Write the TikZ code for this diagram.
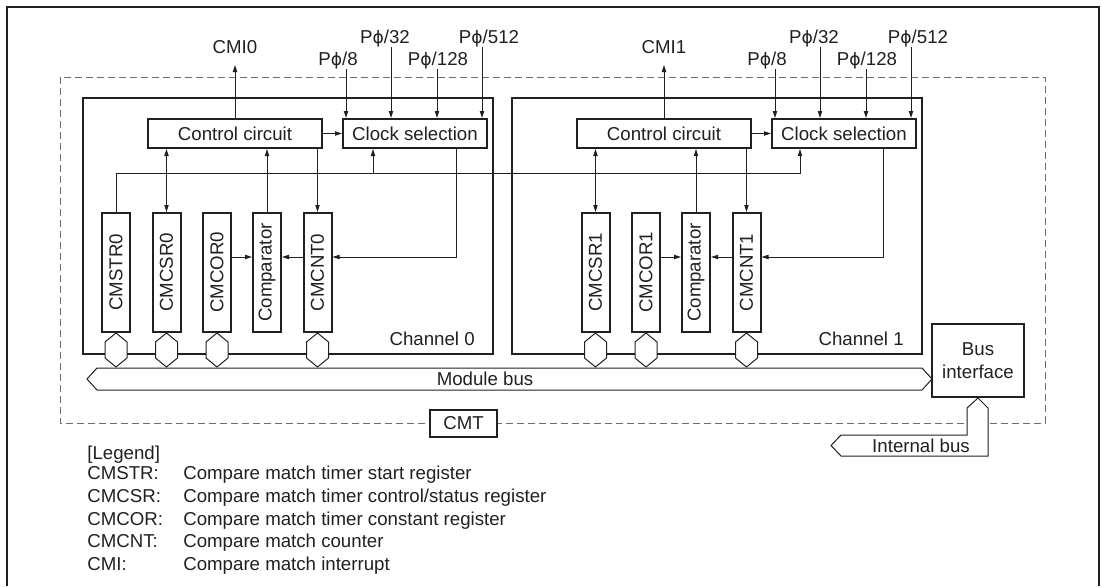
\documentclass[tikz,border=0pt]{standalone}
\usepackage{fontspec}
\setmainfont{Liberation Sans}
\newfontfamily\phifont[Scale=0.92]{DejaVu Sans}
\usetikzlibrary{arrows.meta, positioning, calc}
\definecolor{inkK}{HTML}{231F20}
\definecolor{dashGray}{HTML}{6D6E71}
\newcommand{\Pphi}{P{\phifont ϕ}}
\tikzset{
  lineK/.style={draw=inkK, line width=0.6pt},
  arrowK/.style={-{Triangle[length=4.2pt, width=2.6pt]}, draw=inkK, line width=0.6pt},
  arrowKK/.style={{Triangle[length=4.2pt, width=2.6pt]}-{Triangle[length=4.2pt, width=2.6pt]},
                  draw=inkK, line width=0.6pt},
  boxK/.style={rectangle, draw=inkK, line width=1.2pt, fill=white, inner sep=0pt,
               minimum height=17.4pt},
  regBox/.style={boxK, minimum width=16.8pt, minimum height=71.4pt},
  chanBox/.style={rectangle, draw=inkK, line width=1.3pt, inner sep=0pt,
                  minimum width=246pt, minimum height=153.6pt},
  cmtLine/.style={draw=dashGray, line width=0.6pt, dash pattern=on 4.2pt off 2.4pt},
  busK/.style={draw=inkK, line width=0.6pt, fill=white},
  legendK/.style={anchor=base west, inner sep=0pt},
  hexcon/.pic={\path[busK] (0,10.2pt) -- (6.6pt,4.8pt) -- (6.6pt,-4.8pt) -- (0,-10.2pt)
                 -- (-6.6pt,-4.8pt) -- (-6.6pt,4.8pt) -- cycle;},
}
\begin{document}
\begin{tikzpicture}[x=0.6pt, y=-0.6pt, font=\fontsize{11.2}{13.8}\selectfont, text=inkK]
    \useasboundingbox (0,0) rectangle (1103,586);
    \draw[inkK, line width=1.5pt] (7,586) -- (7,7) -- (1099,7) -- (1099,586);
    % CMT module
    \draw[cmtLine] (60,77) rectangle (1045,423);
    \node[boxK, minimum width=40.2pt, minimum height=16.2pt] (cmt) at (463.5,423) {CMT};
    \node[chanBox] (ch0) at (288,226) {};
    \node[chanBox] (ch1) at (717,226) {};
    \node[anchor=east, inner sep=0pt] (chl0) at (475,339) {Channel 0};
    \node[anchor=east, inner sep=0pt] (chl1) at (904,339) {Channel 1};

    % channel 0
    \node[boxK, minimum width=104.4pt] (ctl0) at (235,133.5) {Control circuit};
    \node[boxK, minimum width=86.4pt] (clk0) at (415,133.5) {Clock selection};
    \node[regBox] (str0) at (116,272.5) {\rotatebox{90}{CMSTR0}};
    \node[regBox] (csr0) at (166.5,272.5) {\rotatebox{90}{CMCSR0}};
    \node[regBox] (cor0) at (217,272.5) {\rotatebox{90}{CMCOR0}};
    \node[regBox] (cmp0) at (267,272.5) {\rotatebox{90}{Comparator}};
    \node[regBox] (cnt0) at (317.5,272.5) {\rotatebox{90}{CMCNT0}};

    \node[anchor=base] (cmi0) at (235,53) {CMI0};
    \coordinate (cmi0t) at (235,65);
    \draw[arrowK] (ctl0.north) -- (cmi0t);
    \node[anchor=base] (p8a) at (338,65) {\Pphi/8};
    \node[anchor=base] (p32a) at (385,43.3) {\Pphi/32};
    \node[anchor=base] (p128a) at (438,65) {\Pphi/128};
    \node[anchor=base] (p512a) at (489,43.3) {\Pphi/512};
    \coordinate (in8a) at (346,69);
    \coordinate (in32a) at (391,47);
    \coordinate (in128a) at (437,69);
    \coordinate (in512a) at (482,47);
    \draw[arrowK] (in8a) -- (in8a |- clk0.north);
    \draw[arrowK] (in32a) -- (in32a |- clk0.north);
    \draw[arrowK] (in128a) -- (in128a |- clk0.north);
    \draw[arrowK] (in512a) -- (in512a |- clk0.north);
    \draw[arrowK] (ctl0) -- (clk0);
    \draw[arrowKK] (csr0.north) -- (csr0.north |- ctl0.south);
    \draw[arrowK] (cmp0.north) -- (cmp0.north |- ctl0.south);
    \draw[arrowK] (cnt0.north |- ctl0.south) -- (cnt0.north);
    \draw[arrowK] ([xshift=24.6pt]clk0.south) |- ([yshift=9.3pt]cnt0.east);
    \draw[arrowK] ([yshift=9.3pt]cor0.east) -- ([yshift=9.3pt]cmp0.west);
    \draw[arrowK] ([yshift=9.3pt]cnt0.west) -- ([yshift=9.3pt]cmp0.east);

    % channel 1
    \node[boxK, minimum width=104.4pt] (ctl1) at (664,133.5) {Control circuit};
    \node[boxK, minimum width=86.4pt] (clk1) at (844,133.5) {Clock selection};
    \node[regBox] (csr1) at (595.5,272.5) {\rotatebox{90}{CMCSR1}};
    \node[regBox] (cor1) at (646,272.5) {\rotatebox{90}{CMCOR1}};
    \node[regBox] (cmp1) at (696,272.5) {\rotatebox{90}{Comparator}};
    \node[regBox] (cnt1) at (746.5,272.5) {\rotatebox{90}{CMCNT1}};

    \node[anchor=base] (cmi1) at (664,53) {CMI1};
    \coordinate (cmi1t) at (664,65);
    \draw[arrowK] (ctl1.north) -- (cmi1t);
    \node[anchor=base] (p8b) at (767,65) {\Pphi/8};
    \node[anchor=base] (p32b) at (814,43.3) {\Pphi/32};
    \node[anchor=base] (p128b) at (867,65) {\Pphi/128};
    \node[anchor=base] (p512b) at (918,43.3) {\Pphi/512};
    \coordinate (in8b) at (775,69);
    \coordinate (in32b) at (820,47);
    \coordinate (in128b) at (866,69);
    \coordinate (in512b) at (911,47);
    \draw[arrowK] (in8b) -- (in8b |- clk1.north);
    \draw[arrowK] (in32b) -- (in32b |- clk1.north);
    \draw[arrowK] (in128b) -- (in128b |- clk1.north);
    \draw[arrowK] (in512b) -- (in512b |- clk1.north);
    \draw[arrowK] (ctl1) -- (clk1);
    \draw[arrowKK] (csr1.north) -- (csr1.north |- ctl1.south);
    \draw[arrowK] (cmp1.north) -- (cmp1.north |- ctl1.south);
    \draw[arrowK] (cnt1.north |- ctl1.south) -- (cnt1.north);
    \draw[arrowK] ([xshift=23.4pt]clk1.south) |- ([yshift=9.3pt]cnt1.east);
    \draw[arrowK] ([yshift=9.3pt]cor1.east) -- ([yshift=9.3pt]cmp1.west);
    \draw[arrowK] ([yshift=9.3pt]cnt1.west) -- ([yshift=9.3pt]cmp1.east);

    % start line from CMSTR0 to both clock selections
    \draw[arrowK] (str0.north) -- ++(0,-39) -| ([xshift=-26.4pt]clk1.south);
    \coordinate (br0) at (373,174);
    \draw[arrowK] (br0) -- (br0 |- clk0.south);

    % bus connectors
    \pic at (116,350) {hexcon};
    \pic at (166.5,350) {hexcon};
    \pic at (217,350) {hexcon};
    \pic at (317.5,350) {hexcon};
    \pic at (595.5,350) {hexcon};
    \pic at (646,350) {hexcon};
    \pic at (746.5,350) {hexcon};
    \draw[busK] (87,379) -- (97,368) -- (922,368) -- (932,379) -- (922,390) -- (97,390) -- cycle;
    \node (mbus) at (485,379) {Module bus};
    \node[boxK, minimum width=55.2pt, minimum height=43.8pt, align=center] (bif) at (978,360.5)
      {Bus\\interface};
    \draw[busK] (bif.south) -- (988,408) -- (988,456) -- (841,456) -- (831,445.5) -- (841,435)
      -- (967,435) -- (967,408) -- cycle;
    \node (ibus) at (921,446) {Internal bus};

    % legend
    \node[legendK] (lg) at (87,459.5) {[Legend]};
    \node[legendK] (lg1) at (87,479.5) {CMSTR:};
    \node[legendK] (lg2) at (87,502.3) {CMCSR:};
    \node[legendK] (lg3) at (87,525) {CMCOR:};
    \node[legendK] (lg4) at (87,547.8) {CMCNT:};
    \node[legendK] (lg5) at (87,570.5) {CMI:};
    \node[legendK] (ld1) at (183,479.5) {Compare match timer start register};
    \node[legendK] (ld2) at (183,502.3) {Compare match timer control/status register};
    \node[legendK] (ld3) at (183,525) {Compare match timer constant register};
    \node[legendK] (ld4) at (183,547.8) {Compare match counter};
    \node[legendK] (ld5) at (183,570.5) {Compare match interrupt};
\end{tikzpicture}
\end{document}
